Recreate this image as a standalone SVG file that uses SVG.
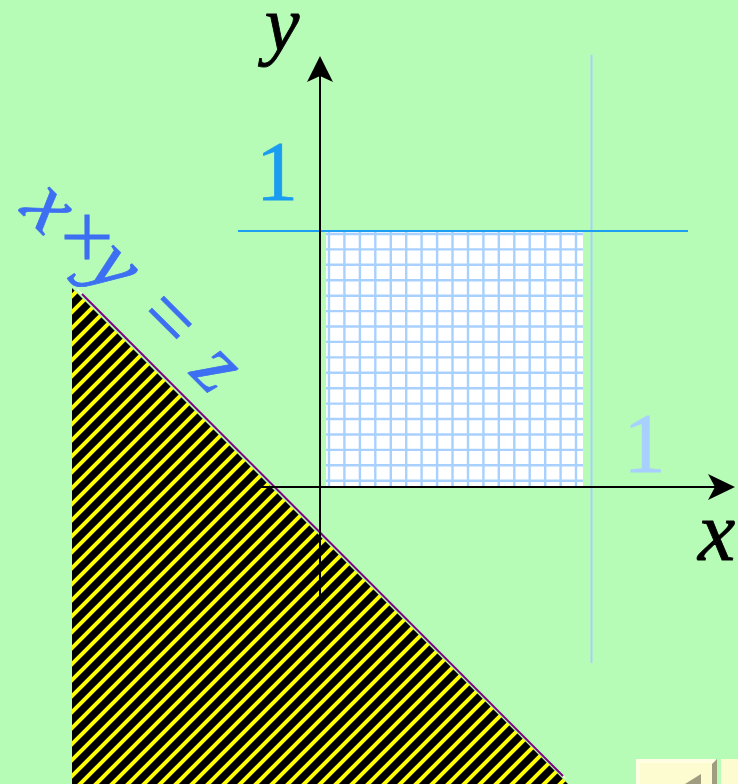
<svg xmlns="http://www.w3.org/2000/svg" width="738" height="784" viewBox="0 0 738 784">
<style>
.serif{font-family:"Liberation Serif","Times New Roman",serif;font-size:84px}
.it{font-style:italic}
.axis{stroke:#000;stroke-width:2;fill:none}
.grid{stroke:#a9d1ff;stroke-width:2.4}
.eq{fill:#3d6ff2;text-anchor:middle;stroke:#3d6ff2;stroke-width:0.8}
</style>
<defs>
<pattern id="hatch" patternUnits="userSpaceOnUse" width="16" height="16">
<rect width="16" height="16" fill="#000"/>
<path d="M-4,4 L4,-4 M0,16 L16,0 M12,20 L20,12" stroke="#ffff00" stroke-width="4"/>
</pattern>
</defs>
<rect width="738" height="784" fill="#b6fcb6"/>

<g id="region">
<polygon points="72,288 72,784 568,784" fill="url(#hatch)"/>
<line x1="77" y1="289" x2="566" y2="779" stroke="#f4ffd0" stroke-width="1.2"/>
<line x1="82" y1="294" x2="563" y2="776" stroke="#800080" stroke-width="2"/>
</g>

<g id="square">
<rect x="326" y="232" width="257" height="254" fill="#ffffff"/>
<g class="grid">
<path d="M329,232V486M344.4,232V486M359.9,232V486M375.3,232V486M390.8,232V486M406.2,232V486M421.6,232V486M437.1,232V486M452.5,232V486M468,232V486M483.4,232V486M498.8,232V486M514.3,232V486M529.7,232V486M545.2,232V486M560.6,232V486M576,232V486"/>
<path d="M326,234H583M326,249.4H583M326,264.8H583M326,280.3H583M326,295.7H583M326,311.1H583M326,326.5H583M326,341.9H583M326,357.4H583M326,372.8H583M326,388.2H583M326,403.6H583M326,419H583M326,434.5H583M326,449.9H583M326,465.3H583M326,480.7H583"/>
</g>
</g>

<g id="guides">
<line x1="591.5" y1="55" x2="591.5" y2="663" stroke="#a8cff8" stroke-width="2"/>
<line x1="238" y1="231" x2="688" y2="231" stroke="#1e9ef0" stroke-width="2"/>
</g>

<g id="axes">
<line class="axis" x1="320" y1="605" x2="320" y2="70"/>
<polygon points="320,56 307,82 320,76 333,82" fill="#000"/>
<line class="axis" x1="258" y1="487" x2="722" y2="487"/>
<polygon points="735,487 708,474 715,487 708,500" fill="#000"/>
</g>

<g id="labels">
<text class="serif it" x="282" y="50" text-anchor="middle" fill="#000" stroke="#000" stroke-width="0.8" style="font-size:78px">y</text>
<text class="serif it" x="698" y="560" fill="#000" stroke="#000" stroke-width="0.8">x</text>
<text class="serif" x="277" y="200" text-anchor="middle" fill="#1a9cf0" stroke="#1a9cf0" stroke-width="0.8">1</text>
<text class="serif" x="644.5" y="472" text-anchor="middle" fill="#a8d0ff" stroke="#a8d0ff" stroke-width="0.8">1</text>
</g>

<g id="equation" transform="rotate(45)">
<text class="serif it eq" x="181" y="136">x</text>
<text class="serif eq" x="229" y="134">×</text>
<text class="serif it eq" x="270" y="132">y</text>
<text class="serif eq" x="345" y="132">=</text>
<text class="serif it eq" x="414" y="131">z</text>
</g>

<g id="button">
<rect x="636" y="759" width="80" height="30" fill="#fffde2"/>
<rect x="640" y="763" width="72" height="26" fill="#fdfbd0"/>
<polygon points="712,764 717,759 717,784 712,784" fill="#a09c80"/>
<polygon points="685,784 701,774 701,784" fill="#a09c80"/>
<rect x="721" y="759" width="20" height="30" fill="#fdfbd0"/>
</g>
</svg>
